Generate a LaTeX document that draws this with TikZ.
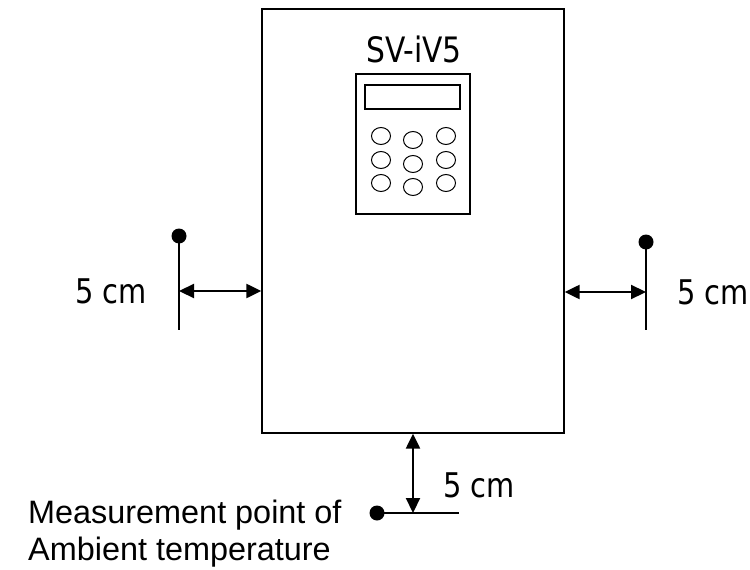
\documentclass[tikz,border=0pt]{standalone}
\usepackage{fontspec}
\setmainfont{DejaVu Sans}
\newfontfamily\condf[FakeStretch=0.85]{DejaVu Sans}
\newfontfamily\arialf{Liberation Sans}
\usetikzlibrary{arrows.meta,shapes.geometric}
\begin{document}
\begin{tikzpicture}[x=1pt,y=-1pt,
  frame/.style={draw, line width=1.3pt, inner sep=0pt},
  btn/.style={draw, ellipse, line width=1pt, inner sep=0pt, minimum width=19pt, minimum height=17pt},
  dotmark/.style={circle, fill=black, inner sep=0pt, minimum size=15pt},
  mk/.style={line width=2.8pt},
  dim/.style={line width=2.2pt, {Triangle[length=15pt,width=14pt]}-{Triangle[length=15pt,width=14pt]}},
  lbl/.style={inner sep=0pt, font=\condf\fontsize{34}{40}\selectfont},
  meas/.style={inner sep=0pt, anchor=base west, font=\arialf\fontsize{32.4}{36}\selectfont}]
\useasboundingbox (0,0) rectangle (750,570);
\fill[white] (0,0) rectangle (750,570);
% housing
\node[frame, minimum width=302pt, minimum height=424pt] (box) at (413,221) {};
\node[inner sep=0pt, anchor=base, font=\condf\fontsize{35}{40}\selectfont] (title) at (414,62) {SV-iV5};
\node[frame, line width=1.2pt, minimum width=114pt, minimum height=140pt] (pad) at (413,144) {};
\node[frame, line width=1.2pt, minimum width=95pt, minimum height=24pt] (disp) at (412.5,97) {};
% buttons
\node[btn] (b1) at (381,136) {};
\node[btn] (b2) at (413,140) {};
\node[btn] (b3) at (446,136) {};
\node[btn] (b4) at (381,160) {};
\node[btn] (b5) at (413,164) {};
\node[btn] (b6) at (446,160) {};
\node[btn] (b7) at (381,183) {};
\node[btn] (b8) at (413,187) {};
\node[btn] (b9) at (446,183) {};
% left marker
\node[dotmark] (ldot) at (179,236) {};
\coordinate (lbot) at (179,330);
\draw[mk] (ldot.center) -- (lbot);
\coordinate (larr) at (179,291);
\draw[dim] (larr) -- (larr -| box.west);
\node[lbl, anchor=base east] (l5) at (147,303) {5 cm};
% right marker
\node[dotmark] (rdot) at (646,242) {};
\coordinate (rbot) at (646,330);
\draw[mk] (rdot.center) -- (rbot);
\coordinate (rarr) at (646,292);
\draw[dim] (rarr -| box.east) -- (rarr);
\node[lbl, anchor=base west] (r5) at (677,304) {5 cm};
% bottom marker
\node[dotmark] (bdot) at (377,513) {};
\coordinate (bend) at (459,513);
\draw[mk] (bdot.center) -- (bend);
\coordinate (barr) at (413,513);
\draw[dim] (box.south) -- (barr);
\node[lbl, anchor=base west] (b5l) at (443,497) {5 cm};
% measurement text
\node[meas] (m1) at (28,523) {Measurement point of};
\node[meas] (m2) at (28,560) {Ambient temperature};
\end{tikzpicture}
\end{document}
